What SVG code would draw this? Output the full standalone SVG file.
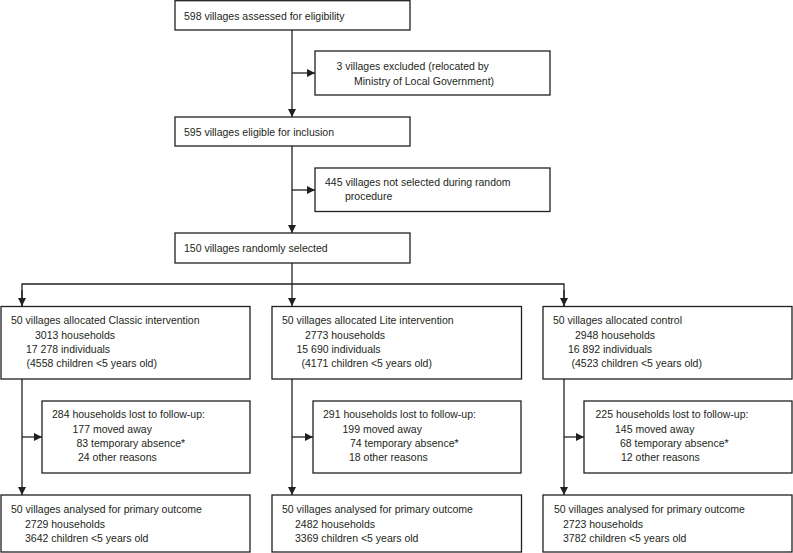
<svg xmlns="http://www.w3.org/2000/svg" width="793" height="553" viewBox="0 0 793 553">
<defs>
<style>
.box{fill:#fff;stroke:#231f20;stroke-width:1.3}
.ln{fill:none;stroke:#231f20;stroke-width:1.3}
text{font-family:"Liberation Sans",Arial,sans-serif;font-size:10.5px;fill:#231f20}
</style>
<marker id="ah" viewBox="0 0 8 8" refX="8" refY="4" markerWidth="8" markerHeight="8" markerUnits="userSpaceOnUse" orient="auto">
<path d="M0,0 L8,4 L0,8 z" fill="#231f20"/>
</marker>
</defs>
<rect width="793" height="553" fill="#fff"/>
<g id="connectors">
<line class="ln" x1="292" y1="30" x2="292" y2="117" marker-end="url(#ah)"/>
<line class="ln" x1="292" y1="73" x2="315" y2="73" marker-end="url(#ah)"/>
<line class="ln" x1="292" y1="146" x2="292" y2="233" marker-end="url(#ah)"/>
<line class="ln" x1="292" y1="190" x2="315" y2="190" marker-end="url(#ah)"/>
<line class="ln" x1="292" y1="263" x2="292" y2="306" marker-end="url(#ah)"/>
<polyline class="ln" points="22,306 22,284 564,284 564,306"/>
<line class="ln" x1="22" y1="290" x2="22" y2="306" marker-end="url(#ah)"/>
<line class="ln" x1="564" y1="290" x2="564" y2="306" marker-end="url(#ah)"/>
<line class="ln" x1="22" y1="379" x2="22" y2="495" marker-end="url(#ah)"/>
<line class="ln" x1="22" y1="437" x2="42" y2="437" marker-end="url(#ah)"/>
<line class="ln" x1="292" y1="379" x2="292" y2="495" marker-end="url(#ah)"/>
<line class="ln" x1="292" y1="437" x2="313" y2="437" marker-end="url(#ah)"/>
<line class="ln" x1="564" y1="379" x2="564" y2="495" marker-end="url(#ah)"/>
<line class="ln" x1="564" y1="437" x2="584" y2="437" marker-end="url(#ah)"/>
</g>
<g id="assessed">
<rect class="box" x="175" y="0.7" width="235" height="29.3"/>
<text x="184" y="19.5">598 villages assessed for eligibility</text>
</g>
<g id="excluded">
<rect class="box" x="315" y="51" width="235" height="44"/>
<text x="336.5" y="70">3 villages excluded (relocated by</text>
<text x="354" y="84.5">Ministry of Local Government)</text>
</g>
<g id="eligible">
<rect class="box" x="175" y="117" width="235" height="29"/>
<text x="184" y="135.5">595 villages eligible for inclusion</text>
</g>
<g id="notselected">
<rect class="box" x="315" y="168" width="235" height="43.5"/>
<text x="325" y="185.5">445 villages not selected during random</text>
<text x="345" y="199.5">procedure</text>
</g>
<g id="selected">
<rect class="box" x="175" y="233" width="235" height="30"/>
<text x="184" y="251.5">150 villages randomly selected</text>
</g>
<g id="classic">
<rect class="box" x="1" y="306.5" width="249" height="72.5"/>
<text x="11" y="324">50 villages allocated Classic intervention</text>
<text x="35" y="338.5">3013 households</text>
<text x="26" y="353">17 278 individuals</text>
<text x="26.5" y="367">(4558 children &lt;5 years old)</text>
</g>
<g id="lite">
<rect class="box" x="272" y="306.5" width="249.5" height="72.5"/>
<text x="282" y="324">50 villages allocated Lite intervention</text>
<text x="305" y="338.5">2773 households</text>
<text x="296.5" y="353">15 690 individuals</text>
<text x="301.5" y="367">(4171 children &lt;5 years old)</text>
</g>
<g id="control">
<rect class="box" x="543" y="306.5" width="249" height="72.5"/>
<text x="553" y="324">50 villages allocated control</text>
<text x="575" y="338.5">2948 households</text>
<text x="568" y="353">16 892 individuals</text>
<text x="571.5" y="367">(4523 children &lt;5 years old)</text>
</g>
<g id="classic-lost">
<rect class="box" x="42" y="401" width="208" height="72"/>
<text x="52" y="418">284 households lost to follow-up:</text>
<text x="72.5" y="432.5">177 moved away</text>
<text x="76.5" y="447">83 temporary absence*</text>
<text x="78" y="461">24 other reasons</text>
</g>
<g id="lite-lost">
<rect class="box" x="313" y="401" width="208" height="72"/>
<text x="323" y="418">291 households lost to follow-up:</text>
<text x="342.5" y="432.5">199 moved away</text>
<text x="350" y="447">74 temporary absence*</text>
<text x="349" y="461">18 other reasons</text>
</g>
<g id="control-lost">
<rect class="box" x="584" y="401" width="208" height="72"/>
<text x="595.5" y="418">225 households lost to follow-up:</text>
<text x="615" y="432.5">145 moved away</text>
<text x="620" y="447">68 temporary absence*</text>
<text x="621" y="461">12 other reasons</text>
</g>
<g id="classic-analysed">
<rect class="box" x="1" y="495" width="249" height="57"/>
<text x="11" y="513">50 villages analysed for primary outcome</text>
<text x="25" y="527.5">2729 households</text>
<text x="25" y="542">3642 children &lt;5 years old</text>
</g>
<g id="lite-analysed">
<rect class="box" x="272" y="495" width="249.5" height="57"/>
<text x="282" y="513">50 villages analysed for primary outcome</text>
<text x="295" y="527.5">2482 households</text>
<text x="295" y="542">3369 children &lt;5 years old</text>
</g>
<g id="control-analysed">
<rect class="box" x="543" y="495" width="249" height="57"/>
<text x="554" y="513">50 villages analysed for primary outcome</text>
<text x="563" y="527.5">2723 households</text>
<text x="563" y="542">3782 children &lt;5 years old</text>
</g>
</svg>
